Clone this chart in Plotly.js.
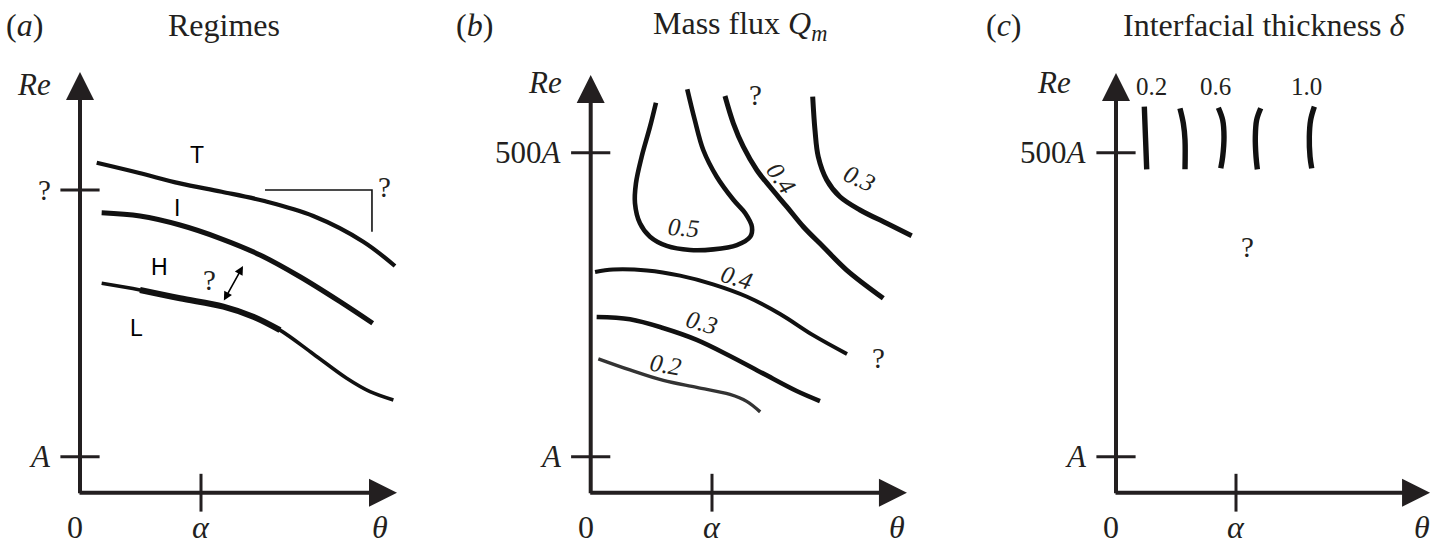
<!DOCTYPE html>
<html>
<head>
<meta charset="utf-8">
<script src="https://cdn.plot.ly/plotly-3.0.1.min.js"></script>
<style>html,body{margin:0;padding:0;background:#fff;}#chart{width:1432px;height:547px;}</style>
</head>
<body>
<div id="chart"></div>
<script>
// ---------------- DATA (x in units of alpha, y as Re/A on a log scale) ----------------
// Panel (a) Regimes
const regimeT_x = [0.138, 0.482, 0.826, 1.171, 1.515, 1.928, 2.341, 2.603];
const regimeT_re = [407, 332, 267, 225, 187, 137, 81.1, 49.3];
const regimeI_x = [0.179, 0.496, 0.826, 1.157, 1.488, 1.818, 2.149, 2.419];
const regimeI_re = [146.6, 137, 114, 86.9, 61.8, 39.6, 23.8, 15.3];
const regimeL_x = [0.179, 0.496, 0.826, 1.185, 1.432, 1.653, 1.928, 2.204, 2.397, 2.590];
const regimeL_re = [34.6, 30.2, 25.5, 21.5, 17.5, 13.3, 8.17, 4.97, 3.78, 3.19];
const bracket_x = [1.529, 2.413, 2.413];
const bracket_re = [233, 233, 99.4];
const regimeLabels = ['T', 'I', 'H', 'L'];
const regimeLabel_x = [0.967, 0.80, 0.653, 0.471];
const regimeLabel_re = [477, 161, 48.3, 13.9];

// Panel (b) Mass flux contours
const q05_x = [0.538, 0.489, 0.420, 0.373, 0.365, 0.406, 0.489, 0.627, 0.819, 1.011, 1.205, 1.315, 1.329, 1.274, 1.178, 1.039, 0.928, 0.858, 0.796];
const q05_re = [1390, 851, 460, 267, 178, 118, 89.7, 74.3, 68.4, 69.3, 75.7, 89.7, 110, 145, 190, 306, 528, 975, 1828];
const q04u_x = [1.107, 1.176, 1.258, 1.369, 1.478, 1.616, 1.753, 1.917, 2.110, 2.412];
const q04u_re = [1592, 912, 565, 351, 249, 166, 110, 73.1, 45.4, 25.5];
const q03u_x = [1.830, 1.849, 1.876, 1.946, 2.055, 2.220, 2.440, 2.646];
const q03u_re = [1570, 794, 460, 286, 203, 155, 118, 91.6];
const q04l_x = [0.036, 0.185, 0.464, 0.737, 1.009, 1.289, 1.561, 1.833, 2.113];
const q04l_re = [43.6, 45.9, 45.0, 40.5, 33.9, 26.3, 18.5, 12.0, 8.17];
const q03l_x = [0.049, 0.324, 0.596, 0.874, 1.148, 1.420, 1.698, 1.890];
const q03l_re = [17.4, 16.6, 13.9, 10.9, 7.84, 5.49, 3.83, 3.12];
const q02_x = [0.063, 0.324, 0.599, 0.874, 1.148, 1.286, 1.397];
const q02_re = [7.40, 5.89, 4.75, 4.12, 3.57, 3.10, 2.50];
const qLabels = ['0.5', '0.4', '0.3', '0.4', '0.3', '0.2'];
const qLabel_x = [0.761, 1.575, 2.220, 1.204, 0.915, 0.613];
const qLabel_re = [109, 298, 298, 38.6, 15.4, 6.52];
const qLabel_angle = [5, 55, 25, 17, 16, 10];

// Panel (c) Interfacial thickness contours
const delta1_x = [0.236, 0.246, 0.256];
const delta1_re = [1280, 675, 356];
const delta2_x = [0.533, 0.561, 0.575, 0.575];
const delta2_re = [1239, 912, 649, 356];
const delta3_x = [0.853, 0.889, 0.900, 0.889, 0.873];
const delta3_re = [1254, 975, 693, 460, 363];
const delta4_x = [1.206, 1.172, 1.161, 1.167, 1.178];
const delta4_re = [1239, 975, 693, 460, 356];
const delta5_x = [1.653, 1.622, 1.611, 1.617, 1.631];
const delta5_re = [1280, 975, 693, 460, 363];
const deltaLabels = ['0.2', '0.6', '1.0'];
const deltaLabel_x = [0.298, 0.825, 1.589];
const deltaLabel_re = [1954, 1954, 1954];

// Axis ticks
const yTickVals_a = [1, 233];
const yTickText_a = ['<i>A</i>', '?'];
const yTickVals_bc = [1, 500];
const yTickText_bc = ['<i>A</i>', '500<i>A</i>'];
const xTickVals = [0, 1];
const xTickText = ['0', '<i>α</i>'];
const xEndLabel = '<i>θ</i>';
const panelTitles = ['Regimes', 'Mass flux <i>Q</i><sub><i>m</i></sub>', 'Interfacial thickness <i>δ</i>'];
const panelTags = ['(<i>a</i>)', '(<i>b</i>)', '(<i>c</i>)'];

// ---------------- LAYOUT GEOMETRY ----------------
const W = 1432, H = 547;
const yA = 456.7, uy = 112.64, yTopPx = 0, yBotPx = 547;
const panels = [
  {ox: 80, ux: 121, xl: 0, xr: 430, tipX: 2.620, tipRe: 2600},
  {ox: 590.7, ux: 121.3, xl: 440, xr: 940, tipX: 2.607, tipRe: 2450},
  {ox: 1116, ux: 120, xl: 950, xr: 1432, tipX: 2.617, tipRe: 2550}
];
const originRe = 0.479;
const INK = '#231f20';
const SERIF = 'Liberation Serif, Times New Roman, serif';
const SANS = 'Liberation Sans, Arial, sans-serif';

const layout = {
  width: W, height: H,
  margin: {l: 0, r: 0, t: 0, b: 0},
  paper_bgcolor: '#fff', plot_bgcolor: 'rgba(0,0,0,0)',
  showlegend: false,
  annotations: [], shapes: []
};
panels.forEach((p, i) => {
  const s = i === 0 ? '' : String(i + 1);
  layout['xaxis' + s] = {
    domain: [p.xl / W, p.xr / W],
    range: [(p.xl - p.ox) / p.ux, (p.xr - p.ox) / p.ux],
    visible: false, fixedrange: true, anchor: 'y' + s
  };
  layout['yaxis' + s] = {
    type: 'log',
    domain: [1 - yBotPx / H, 1 - yTopPx / H],
    range: [(yA - yBotPx) / uy, (yA - yTopPx) / uy],
    visible: false, fixedrange: true, anchor: 'x' + s
  };
});

const traces = [];
function curve(x, y, i, width, color) {
  const s = i === 0 ? '' : String(i + 1);
  traces.push({
    type: 'scatter', mode: 'lines', x: x, y: y,
    xaxis: 'x' + s, yaxis: 'y' + s,
    line: {color: color || '#111', width: width, shape: 'spline', smoothing: 1},
    hoverinfo: 'skip'
  });
}
function lab(text, x, re, i, size, opts) {
  const s = i === 0 ? '' : String(i + 1);
  const a = Object.assign({
    xref: 'x' + s, yref: 'y' + s, x: x, y: Math.log10(re), text: text,
    showarrow: false, font: {family: SERIF, size: size, color: INK},
    xanchor: 'center', yanchor: 'middle'
  }, opts || {});
  layout.annotations.push(a);
}
const L = v => Math.log10(v);

// Axes with arrow heads, tick marks, tick labels
panels.forEach((p, i) => {
  const s = i === 0 ? '' : String(i + 1);
  const dx = 2 / p.ux, dy = 2 / uy;
  layout.annotations.push({
    xref: 'x' + s, yref: 'y' + s, axref: 'x' + s, ayref: 'y' + s,
    x: p.tipX, y: L(originRe), ax: -dx, ay: L(originRe), text: '',
    showarrow: true, arrowhead: 2, arrowsize: 1.4, arrowwidth: 4, arrowcolor: INK
  });
  layout.annotations.push({
    xref: 'x' + s, yref: 'y' + s, axref: 'x' + s, ayref: 'y' + s,
    x: 0, y: L(p.tipRe), ax: 0, ay: L(originRe) - dy, text: '',
    showarrow: true, arrowhead: 2, arrowsize: 1.4, arrowwidth: 4, arrowcolor: INK
  });
  const yv = i === 0 ? yTickVals_a : yTickVals_bc;
  const yt = i === 0 ? yTickText_a : yTickText_bc;
  traces.push({
    type: 'scatter', mode: 'markers', x: yv.map(() => 0), y: yv,
    xaxis: 'x' + s, yaxis: 'y' + s, hoverinfo: 'skip',
    marker: {symbol: 'line-ew', size: 28, line: {width: 3, color: INK}}
  });
  traces.push({
    type: 'scatter', mode: 'markers', x: [xTickVals[1]], y: [originRe],
    xaxis: 'x' + s, yaxis: 'y' + s, hoverinfo: 'skip',
    marker: {symbol: 'line-ns', size: 27, line: {width: 3, color: INK}}
  });
  yv.forEach((v, k) => {
    lab(yt[k], -27 / p.ux, v, i, yt[k] === '?' ? 29 : 31, {xanchor: 'right'});
  });
  lab('<i>Re</i>', i === 0 ? -0.38 : (i === 1 ? -0.377 : -0.52), i === 0 ? 2000 : 2100, i, 31);
  const labY = Math.pow(10, (yA - 527) / uy);
  lab(xTickText[0], xTickVals[0] - 5 / p.ux, labY, i, 32);
  lab(xTickText[1], xTickVals[1], labY, i, 32);
  lab(xEndLabel, (i === 0 ? 300 : 306) / p.ux, labY, i, 32);
});

// Panel (a) curves
curve(regimeT_x, regimeT_re, 0, 4.2);
curve(regimeI_x, regimeI_re, 0, 5);
curve(regimeL_x, regimeL_re, 0, 3.6);
curve(regimeL_x.slice(1, 6), regimeL_re.slice(1, 6), 0, 6);
traces.push({type: 'scatter', mode: 'lines', x: bracket_x, y: bracket_re, xaxis: 'x', yaxis: 'y',
  line: {color: '#111', width: 1.6}, hoverinfo: 'skip'});
regimeLabels.forEach((t, k) => lab(t, regimeLabel_x[k], regimeLabel_re[k], 0, 23, {font: {family: SANS, size: 23, color: '#000'}}));
lab('?', 2.52, 248, 0, 29);
lab('?', 1.074, 37.1, 0, 29);
layout.annotations.push({
  xref: 'x', yref: 'y', axref: 'x', ayref: 'y',
  x: 1.347, y: L(49.3), ax: 1.182, ay: L(23.6), text: '',
  showarrow: true, arrowhead: 2, startarrowhead: 2, arrowside: 'end+start',
  arrowsize: 1.1, startarrowsize: 1.1, arrowwidth: 1.6, arrowcolor: '#000'
});

// Panel (b) curves
curve(q05_x, q05_re, 1, 4.6);
curve(q04u_x, q04u_re, 1, 5);
curve(q03u_x, q03u_re, 1, 5);
curve(q04l_x, q04l_re, 1, 4);
curve(q03l_x, q03l_re, 1, 4.6);
curve(q02_x, q02_re, 1, 3.4, '#333');
qLabels.forEach((t, k) => lab('<i>' + t + '</i>', qLabel_x[k], qLabel_re[k], 1, 25, {textangle: qLabel_angle[k]}));
lab('?', 1.355, 1622, 1, 29);
lab('?', 2.369, 7.52, 1, 29);

// Panel (c) curves
curve(delta1_x, delta1_re, 2, 5.4);
curve(delta2_x, delta2_re, 2, 5.4);
curve(delta3_x, delta3_re, 2, 5.4);
curve(delta4_x, delta4_re, 2, 5.4);
curve(delta5_x, delta5_re, 2, 5.4);
deltaLabels.forEach((t, k) => lab(t, deltaLabel_x[k], deltaLabel_re[k], 2, 25));
lab('?', 1.092, 72.7, 2, 29);

// Titles
const tagX = [24, 474, 1004];
const titleX = [224, 740, 1264];
panelTags.forEach((t, k) => layout.annotations.push({xref: 'paper', yref: 'paper', x: tagX[k] / W, y: 1 - 25 / H,
  text: t, showarrow: false, font: {family: SERIF, size: 32, color: INK}, xanchor: 'center', yanchor: 'middle'}));
panelTitles.forEach((t, k) => layout.annotations.push({xref: 'paper', yref: 'paper', x: titleX[k] / W, y: 1 - 25 / H,
  text: t, showarrow: false, font: {family: SERIF, size: 32, color: INK}, xanchor: 'center', yanchor: 'middle'}));

Plotly.newPlot('chart', traces, layout, {staticPlot: true, displayModeBar: false});
</script>
</body>
</html>
